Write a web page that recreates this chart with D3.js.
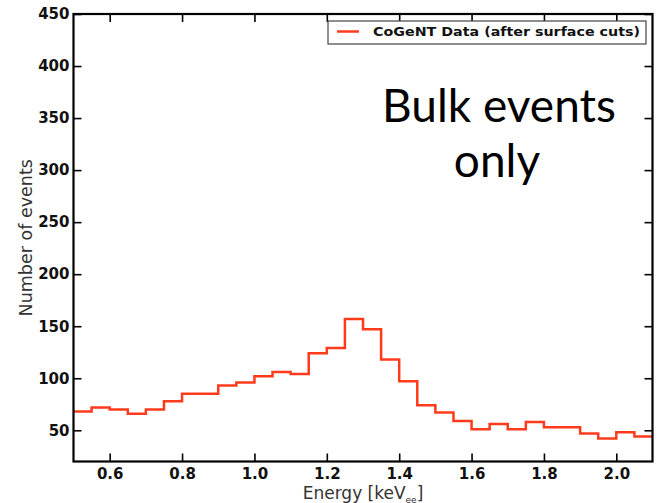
<!DOCTYPE html>
<html><head><meta charset="utf-8">
<script src="https://cdn.jsdelivr.net/npm/d3@7"></script>
<style>body{margin:0;background:#fff} svg{display:block}</style>
</head><body>
<svg id="c" width="664" height="503"></svg>
<script>
// ---- data ----
const binStarts = [0.50,0.55,0.60,0.65,0.70,0.75,0.80,0.85,0.90,0.95,1.00,1.05,1.10,1.15,1.20,1.25,
                   1.30,1.35,1.40,1.45,1.50,1.55,1.60,1.65,1.70,1.75,1.80,1.85,1.90,1.95,2.00,2.05];
const binWidth = 0.05;
const counts = [68,72,70,66,70,78,85,85,93,96,102,106,104,124,129,157,
                147,118,97,74,67,59,51,56,51,58,53,53,47,42,48,44];
const xTicks = [0.6,0.8,1.0,1.2,1.4,1.6,1.8,2.0];
const yTicks = [50,100,150,200,250,300,350,400,450];
const xDomain = [0.5,2.1];
const yDomain = [20,450];
const legendLabel = "CoGeNT Data (after surface cuts)";
const xTitle = "Energy [keV";
const xTitleSub = "ee";
const yTitle = "Number of events";
const noteLines = ["Bulk events","only"];

// ---- layout ----
const L=73.5, R=652.5, T=14, B=461.5;
const svg = d3.select("#c");
const x = d3.scaleLinear().domain(xDomain).range([L,R]);
const y = d3.scaleLinear().domain(yDomain).range([B,T]);
const lineColor = "#ff3b1c";
const axFont = "'DejaVu Sans', sans-serif";

// histogram steps
const pts = binStarts.map((s,i)=>[s,counts[i]]);
pts.push([binStarts[binStarts.length-1]+binWidth, counts[counts.length-1]]);
const line = d3.line().x(d=>x(d[0])).y(d=>y(d[1])).curve(d3.curveStepAfter);
svg.append("path").attr("d",line(pts)).attr("fill","none")
  .attr("stroke",lineColor).attr("stroke-width",2.5).attr("stroke-linejoin","miter");

// axes
function styleAxis(g, labels){
  g.select(".domain").remove();
  g.selectAll(".tick line").attr("stroke","#000").attr("stroke-width",1.6);
  g.selectAll("text").attr("font-family",axFont).attr("font-weight","bold")
    .attr("font-size",15).attr("fill","#111");
  if(!labels) g.selectAll("text").remove();
}
svg.append("g").attr("transform",`translate(0,${B})`)
  .call(d3.axisBottom(x).tickValues(xTicks).tickSizeInner(-8).tickSizeOuter(0).tickPadding(7).tickFormat(d3.format(".1f")))
  .call(g=>styleAxis(g,true));
svg.append("g").attr("transform",`translate(0,${T})`)
  .call(d3.axisTop(x).tickValues(xTicks).tickSizeInner(-8).tickSizeOuter(0))
  .call(g=>styleAxis(g,false));
svg.append("g").attr("transform",`translate(${L},0)`)
  .call(d3.axisLeft(y).tickValues(yTicks).tickSizeInner(-8).tickSizeOuter(0).tickPadding(4).tickFormat(d3.format("d")))
  .call(g=>styleAxis(g,true));
svg.append("g").attr("transform",`translate(${R},0)`)
  .call(d3.axisRight(y).tickValues(yTicks).tickSizeInner(-8).tickSizeOuter(0))
  .call(g=>styleAxis(g,false));

// frame
svg.append("rect").attr("x",L).attr("y",T).attr("width",R-L).attr("height",B-T)
  .attr("fill","none").attr("stroke","#000").attr("stroke-width",2.2);

// axis titles
const xt = svg.append("text").attr("x",(L+R)/2).attr("y",498.5).attr("text-anchor","middle")
  .attr("font-family",axFont).attr("font-size",17).attr("fill","#333");
xt.append("tspan").text(xTitle);
xt.append("tspan").text(xTitleSub).attr("font-size",9).attr("dy",4);
xt.append("tspan").text("]").attr("dy",-4);

svg.append("text").attr("transform",`translate(32,${(T+B)/2}) rotate(-90)`)
  .attr("text-anchor","middle").attr("font-family",axFont).attr("font-size",17.5)
  .attr("fill","#333").text(yTitle);

// legend
svg.append("rect").attr("x",328).attr("y",21).attr("width",318).attr("height",23)
  .attr("fill","#fff").attr("stroke","#444").attr("stroke-width",1.2);
svg.append("line").attr("x1",337).attr("x2",359).attr("y1",31.5).attr("y2",31.5)
  .attr("stroke",lineColor).attr("stroke-width",2.5);
svg.append("text").attr("x",373).attr("y",36.3).attr("font-family",axFont)
  .attr("font-weight","bold").attr("font-size",12).attr("fill","#111")
  .attr("textLength",267).attr("lengthAdjust","spacingAndGlyphs").text(legendLabel);

// annotation
const noteFont = "Lato, 'Open Sans', sans-serif";
const nt = svg.append("g");
nt.append("text").attr("x",499).attr("y",121.5).attr("text-anchor","middle")
  .attr("font-family",noteFont).attr("font-size",46).attr("fill","#000").text(noteLines[0]);
nt.append("text").attr("x",497).attr("y",176.5).attr("text-anchor","middle")
  .attr("font-family",noteFont).attr("font-size",46).attr("fill","#000").text(noteLines[1]);
</script>
</body></html>
